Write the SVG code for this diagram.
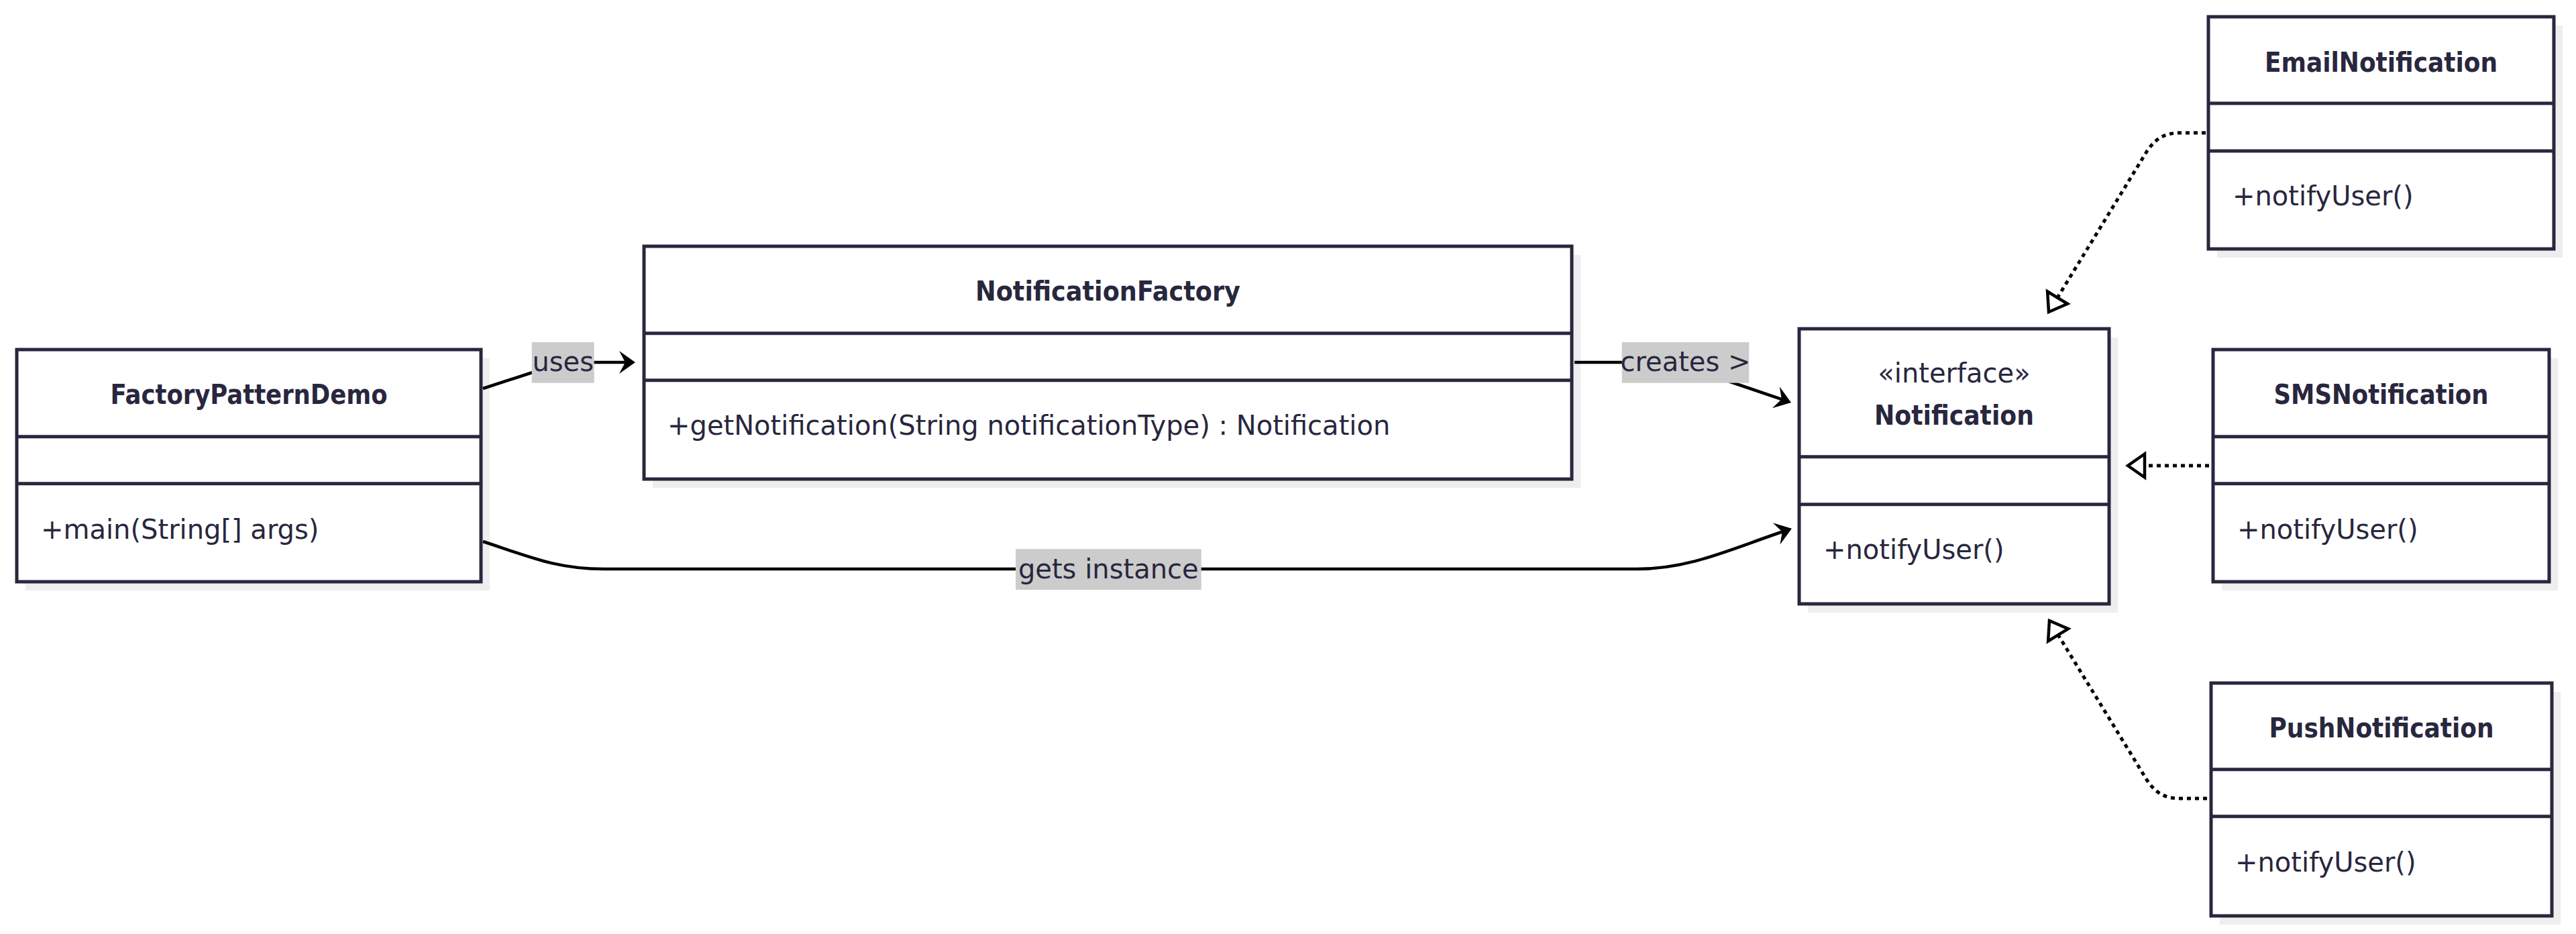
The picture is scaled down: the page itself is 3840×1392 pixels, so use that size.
<svg xmlns="http://www.w3.org/2000/svg" width="3840" height="1392" viewBox="0 0 3840 1392">
<style>
.bg{fill:#ffffff}
.shadow{fill:#eeeeee}
.box{fill:#ffffff;stroke:#28273e;stroke-width:5}
.div{stroke:#28273e;stroke-width:5}
.title{font-family:"DejaVu Sans",sans-serif;font-weight:bold;font-size:40px;fill:#28273e;text-anchor:middle}
.stereo{font-family:"DejaVu Sans",sans-serif;font-size:40px;fill:#28273e;text-anchor:middle}
.member{font-family:"DejaVu Sans",sans-serif;font-size:40px;fill:#28273e}
.edge{fill:none;stroke:#000000;stroke-width:4.5}
.dotted{fill:none;stroke:#000000;stroke-width:5;stroke-dasharray:6 6}
.lblbg{fill:#cccccc}
.lbl{font-family:"DejaVu Sans",sans-serif;font-size:40px;fill:#28273e;text-anchor:middle}
</style>
<defs>
<marker id="arr" markerUnits="userSpaceOnUse" viewBox="-30 -25 45 50" refX="0" refY="0" markerWidth="45" markerHeight="50" orient="auto">
<path d="M7,0 L-17,-17 L-8,0 L-17,17 Z" fill="#000000"/>
</marker>
<marker id="tri" markerUnits="userSpaceOnUse" viewBox="-35 -25 45 50" refX="0" refY="0" markerWidth="45" markerHeight="50" orient="auto">
<path d="M0,0 L-25,-17.5 L-25,17.5 Z" fill="#ffffff" stroke="#000000" stroke-width="4.5"/>
</marker>
</defs>
<rect class="bg" x="0" y="0" width="3840" height="1392"/>

<g id="FactoryPatternDemo">
<rect class="shadow" x="38" y="534" width="692" height="346"/>
<rect class="box" x="25" y="521" width="692" height="346"/>
<line class="div" x1="25" y1="650.7" x2="717" y2="650.7"/>
<line class="div" x1="25" y1="720.7" x2="717" y2="720.7"/>
<text class="title" x="371" y="602" textLength="413" lengthAdjust="spacingAndGlyphs">FactoryPatternDemo</text>
<text class="member" x="61" y="803">+main(String[] args)</text>
</g>

<g id="NotificationFactory">
<rect class="shadow" x="973" y="380" width="1383" height="347"/>
<rect class="box" x="960" y="367" width="1383" height="347"/>
<line class="div" x1="960" y1="496.7" x2="2343" y2="496.7"/>
<line class="div" x1="960" y1="566.7" x2="2343" y2="566.7"/>
<text class="title" x="1651.5" y="448" textLength="395" lengthAdjust="spacingAndGlyphs">NotificationFactory</text>
<text class="member" x="995" y="648">+getNotification(String notificationType) : Notification</text>
</g>

<g id="Notification">
<rect class="shadow" x="2695" y="503" width="462" height="410"/>
<rect class="box" x="2682" y="490" width="462" height="410"/>
<line class="div" x1="2682" y1="680.7" x2="3144" y2="680.7"/>
<line class="div" x1="2682" y1="751.7" x2="3144" y2="751.7"/>
<text class="stereo" x="2913" y="570">«interface»</text>
<text class="title" x="2913" y="633" textLength="238" lengthAdjust="spacingAndGlyphs">Notification</text>
<text class="member" x="2718" y="833">+notifyUser()</text>
</g>

<g id="EmailNotification">
<rect class="shadow" x="3305" y="38" width="515" height="346"/>
<rect class="box" x="3292" y="25" width="515" height="346"/>
<line class="div" x1="3292" y1="154" x2="3807" y2="154"/>
<line class="div" x1="3292" y1="225" x2="3807" y2="225"/>
<text class="title" x="3549.5" y="107" textLength="347" lengthAdjust="spacingAndGlyphs">EmailNotification</text>
<text class="member" x="3328" y="306">+notifyUser()</text>
</g>

<g id="SMSNotification">
<rect class="shadow" x="3312" y="534" width="501" height="346"/>
<rect class="box" x="3299" y="521" width="501" height="346"/>
<line class="div" x1="3299" y1="650.7" x2="3800" y2="650.7"/>
<line class="div" x1="3299" y1="720.7" x2="3800" y2="720.7"/>
<text class="title" x="3549.5" y="602" textLength="320" lengthAdjust="spacingAndGlyphs">SMSNotification</text>
<text class="member" x="3335" y="803">+notifyUser()</text>
</g>

<g id="PushNotification">
<rect class="shadow" x="3309" y="1031" width="508" height="347"/>
<rect class="box" x="3296" y="1018" width="508" height="347"/>
<line class="div" x1="3296" y1="1146.7" x2="3804" y2="1146.7"/>
<line class="div" x1="3296" y1="1216.7" x2="3804" y2="1216.7"/>
<text class="title" x="3550" y="1099" textLength="335" lengthAdjust="spacingAndGlyphs">PushNotification</text>
<text class="member" x="3332" y="1299">+notifyUser()</text>
</g>

<g id="connectors">
<path class="edge" d="M720,579 L800,553 C820,546 830,540 850,540 L940,540" marker-end="url(#arr)"/>
<path class="edge" d="M2347,540 L2450,540 C2490,540 2520,549 2585,571 L2663.4,597.7" marker-end="url(#arr)"/>
<path class="edge" d="M720,807 C790,830 830,848 900,848 L2440,848 C2520,848 2580,818 2664.3,790" marker-end="url(#arr)"/>
<path class="dotted" d="M3288,198 L3250,198 C3225,198 3212,208 3200,226 L3054,465" marker-end="url(#tri)"/>
<path class="dotted" d="M3293,694 L3172,694" marker-end="url(#tri)"/>
<path class="dotted" d="M3290,1190 L3250,1190 C3225,1190 3212,1180 3200,1162 L3055,925" marker-end="url(#tri)"/>
<rect class="lblbg" x="792.7" y="510" width="93" height="60.7"/>
<text class="lbl" x="839.2" y="553">uses</text>
<rect class="lblbg" x="2417.7" y="510" width="189.6" height="60.7"/>
<text class="lbl" x="2512.5" y="553">creates &gt;</text>
<rect class="lblbg" x="1514" y="818.3" width="276.7" height="60.7"/>
<text class="lbl" x="1652.3" y="862">gets instance</text>
</g>
</svg>
